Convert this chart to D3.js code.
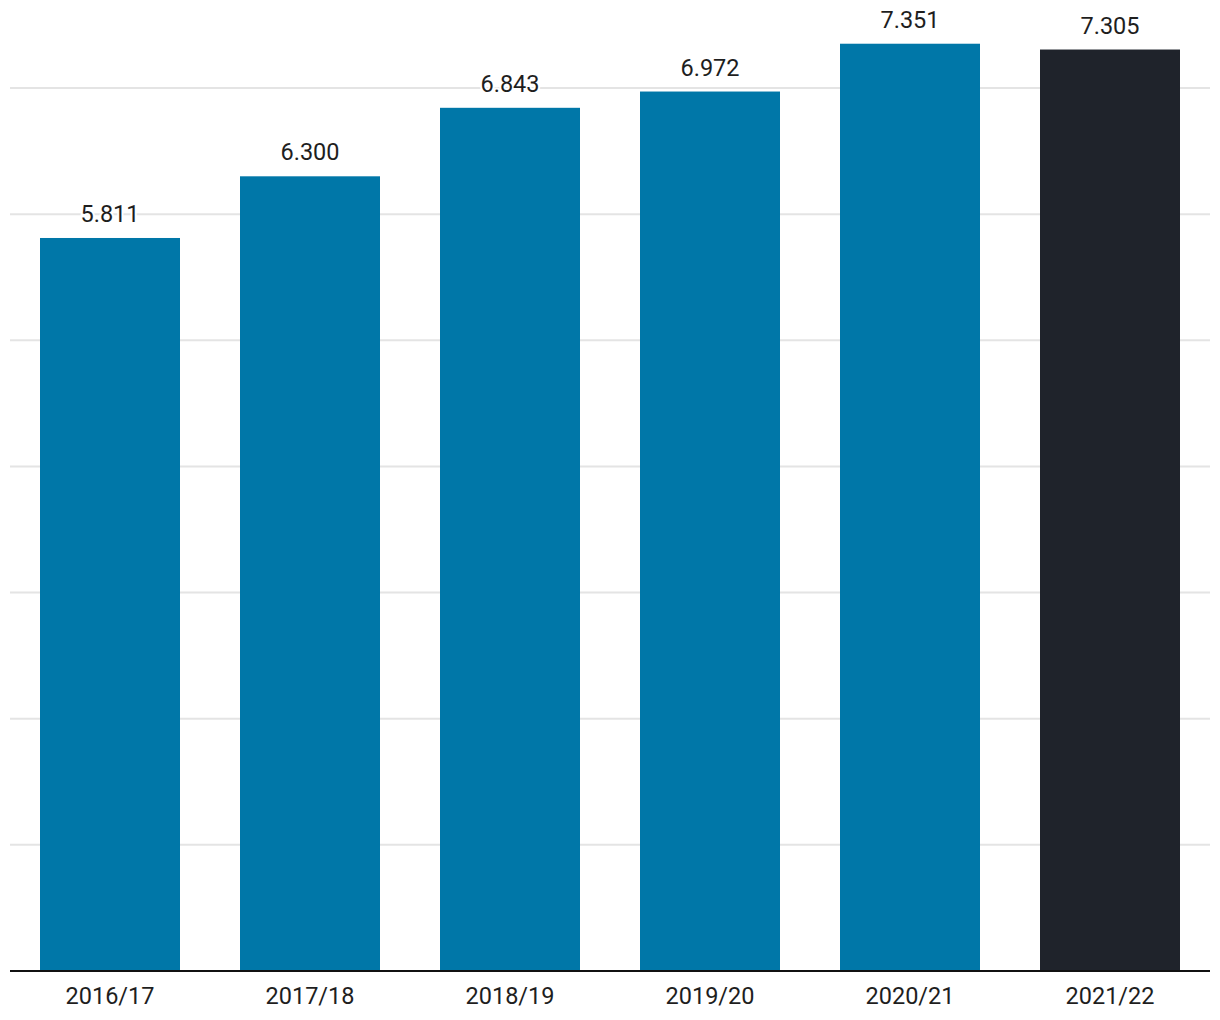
<!DOCTYPE html>
<html>
<head>
<meta charset="utf-8">
<script src="https://cdn.jsdelivr.net/npm/d3@7"></script>
<style>
html,body{margin:0;padding:0;background:#fff;}
svg{display:block;font-family:Roboto,sans-serif;}
</style>
</head>
<body>
<svg id="chart" width="1220" height="1020"></svg>
<script>
const categories = ["2016/17","2017/18","2018/19","2019/20","2020/21","2021/22"];
const values = [5.811, 6.300, 6.843, 6.972, 7.351, 7.305];
const labels = ["5.811","6.300","6.843","6.972","7.351","7.305"];
const gridTicks = [1,2,3,4,5,6,7];
const colors = ["#0077a8","#0077a8","#0077a8","#0077a8","#0077a8","#1f232b"];

(function(){
const svg = d3.select("#chart");
const mLeft = 10, mRight = 1210, mTop = 88, mBottom = 971;
const x = d3.scaleBand().domain(categories).range([mLeft, mRight]).paddingInner(0.3).paddingOuter(0.15);
const y = d3.scaleLinear().domain([0, 7]).range([mBottom, mTop]);

svg.append("g").selectAll("line").data(gridTicks).join("line")
  .attr("x1", mLeft).attr("x2", mRight)
  .attr("y1", d => y(d)).attr("y2", d => y(d))
  .attr("stroke", "#e4e4e4").attr("stroke-width", 2);

svg.append("g").selectAll("rect").data(values).join("rect")
  .attr("x", (d,i) => x(categories[i]))
  .attr("width", x.bandwidth())
  .attr("y", d => y(d))
  .attr("height", d => y(0) - y(d))
  .attr("fill", (d,i) => colors[i]);

svg.append("g").selectAll("text").data(values).join("text")
  .attr("x", (d,i) => x(categories[i]) + x.bandwidth()/2)
  .attr("y", d => y(d) - 16)
  .attr("text-anchor", "middle")
  .attr("font-size", 23.5)
  .attr("fill", "#1e1e1e")
  .attr("stroke", "#fff").attr("stroke-width", 4).attr("paint-order", "stroke")
  .text((d,i) => labels[i]);

const xAxis = svg.append("g").attr("transform", `translate(0,${mBottom})`)
  .call(d3.axisBottom(x).tickSize(0).tickPadding(0));
xAxis.select(".domain").attr("stroke", "#111").attr("stroke-width", 2)
  .attr("d", `M${mLeft},0H${mRight}`);
xAxis.selectAll("text").attr("font-size", 23.5).attr("font-family", "Roboto, sans-serif")
  .attr("fill", "#1e1e1e").attr("dy", null).attr("y", 33);
})();
</script>
</body>
</html>
